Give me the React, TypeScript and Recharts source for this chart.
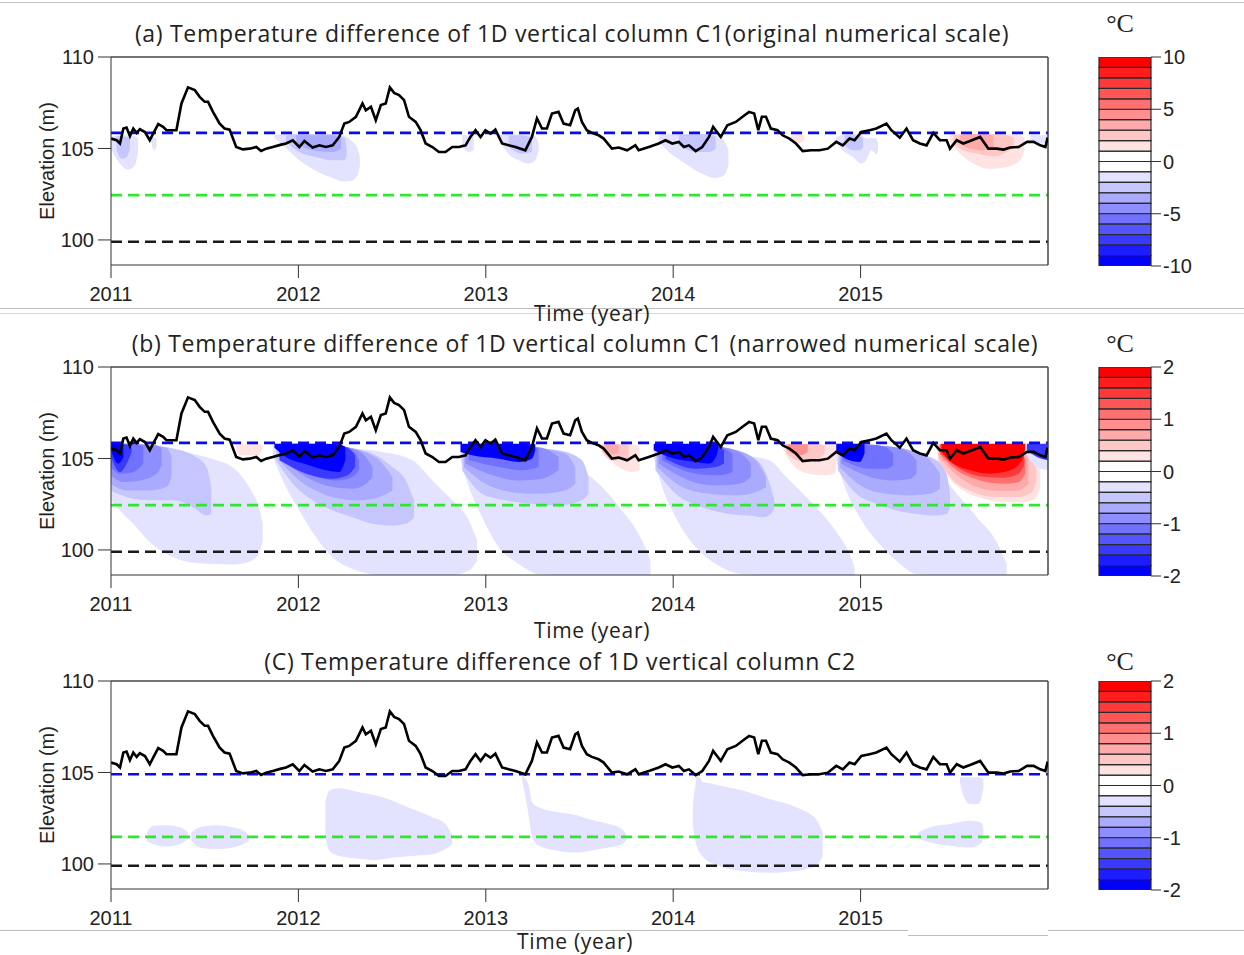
import React from 'react';
import {
  ComposedChart,
  BarChart,
  Bar,
  Area,
  Line,
  XAxis,
  YAxis,
  ReferenceLine,
} from 'recharts';

type Pt = [number, number, number]; // [year, upper elev, lower elev]
type Patch = { level: number; pts: Pt[] };

const yearTicks = [2011, 2012, 2013, 2014, 2015];
const elevTicks = [100, 105, 110];
const barTicksA = [10, 5, 0, -5, -10];
const barTicksBC = [2, 1, 0, -1, -2];

// reservoir water level (m) (same in all panels)
const waterLevel: [number, number][] = [
  [2011.0, 105.54], [2011.03, 105.45], [2011.048, 105.27], [2011.066, 106.09], [2011.083, 106.14],
  [2011.101, 105.67], [2011.119, 106.09], [2011.137, 105.85], [2011.154, 106.05], [2011.181, 105.9],
  [2011.207, 105.45], [2011.225, 105.81], [2011.252, 106.33], [2011.278, 106.18], [2011.296, 106.0],
  [2011.349, 106.0], [2011.376, 107.46], [2011.411, 108.34], [2011.447, 108.19], [2011.473, 107.82],
  [2011.5, 107.55], [2011.518, 107.55], [2011.544, 107.0], [2011.58, 106.36], [2011.606, 106.09],
  [2011.633, 106.03], [2011.668, 105.08], [2011.704, 104.95], [2011.739, 104.99], [2011.775, 105.08],
  [2011.801, 104.86], [2011.828, 104.99], [2011.863, 105.08], [2011.908, 105.21], [2011.934, 105.27],
  [2011.97, 105.45], [2012.005, 105.08], [2012.032, 105.41], [2012.076, 105.05], [2012.112, 105.17],
  [2012.147, 105.08], [2012.183, 105.17], [2012.218, 105.63], [2012.245, 106.36], [2012.271, 106.45],
  [2012.307, 106.73], [2012.342, 107.46], [2012.36, 107.09], [2012.387, 107.28], [2012.413, 106.54],
  [2012.44, 107.37], [2012.466, 107.46], [2012.488, 108.34], [2012.511, 108.04], [2012.537, 107.92],
  [2012.564, 107.64], [2012.59, 106.73], [2012.626, 106.45], [2012.652, 106.0], [2012.679, 105.27],
  [2012.715, 105.08], [2012.75, 104.81], [2012.785, 104.81], [2012.821, 105.08], [2012.856, 105.08],
  [2012.892, 105.17], [2012.918, 105.63], [2012.945, 106.0], [2012.972, 105.63], [2012.998, 106.0],
  [2013.025, 105.81], [2013.051, 106.03], [2013.087, 105.27], [2013.122, 105.17], [2013.158, 105.08],
  [2013.211, 104.9], [2013.246, 105.63], [2013.273, 106.64], [2013.3, 106.09], [2013.326, 106.09],
  [2013.353, 106.91], [2013.388, 107.0], [2013.415, 106.36], [2013.45, 106.27], [2013.477, 107.09],
  [2013.491, 107.18], [2013.513, 106.45], [2013.539, 106.0], [2013.566, 105.85], [2013.602, 105.72],
  [2013.629, 105.54], [2013.673, 104.99], [2013.709, 105.05], [2013.754, 104.9], [2013.798, 105.17],
  [2013.816, 104.9], [2013.87, 105.08], [2013.923, 105.27], [2013.959, 105.45], [2013.995, 105.27],
  [2014.03, 105.36], [2014.057, 105.08], [2014.084, 105.17], [2014.12, 104.86], [2014.155, 105.08],
  [2014.191, 105.63], [2014.213, 106.18], [2014.254, 105.63], [2014.289, 106.27], [2014.334, 106.45],
  [2014.37, 106.73], [2014.405, 107.0], [2014.432, 106.91], [2014.454, 106.0], [2014.473, 106.73],
  [2014.495, 106.73], [2014.521, 106.09], [2014.557, 106.0], [2014.584, 105.72], [2014.62, 105.54],
  [2014.655, 105.27], [2014.691, 104.86], [2014.736, 104.9], [2014.78, 104.9], [2014.825, 104.99],
  [2014.87, 105.36], [2014.905, 105.17], [2014.941, 105.54], [2014.968, 105.45], [2015.004, 105.9],
  [2015.048, 106.0], [2015.084, 106.09], [2015.138, 106.36], [2015.164, 106.0], [2015.209, 105.59],
  [2015.245, 106.09], [2015.28, 105.45], [2015.316, 105.27], [2015.352, 105.17], [2015.388, 105.85],
  [2015.423, 105.45], [2015.459, 105.45], [2015.477, 104.99], [2015.513, 105.45], [2015.548, 105.27],
  [2015.584, 105.41], [2015.638, 105.63], [2015.682, 104.99], [2015.727, 104.99], [2015.763, 104.94],
  [2015.798, 105.05], [2015.843, 105.08], [2015.888, 105.36], [2015.923, 105.36], [2015.959, 105.17],
  [2015.986, 105.08], [2015.998, 105.59],
];

// column top, mid layer, column base (m)
const c1Marks = [105.85, 102.45, 99.9];
const c2Marks = [104.9, 101.48, 99.9];

// ---- panel (a): contour bands, original scale ----
const a1Outer: Pt[] = [[2011.0, 105.63, 104.95], [2011.048, 105.72, 104.17], [2011.092, 105.72, 103.84], [2011.128, 105.67, 104.08], [2011.145, 105.54, 104.9]];
const a1Inner: Pt[] = [[2011.03, 105.67, 104.9], [2011.057, 105.67, 104.44], [2011.083, 105.63, 104.53], [2011.101, 105.54, 104.99]];
const a1Spot: Pt[] = [[2011.216, 105.59, 105.27], [2011.229, 105.59, 104.9], [2011.243, 105.54, 105.08]];
const a2Outer: Pt[] = [[2011.872, 105.72, 105.59], [2011.917, 105.78, 105.17], [2012.005, 105.78, 104.35], [2012.094, 105.78, 103.77], [2012.183, 105.78, 103.38], [2012.236, 105.72, 103.2], [2012.28, 105.45, 103.22], [2012.316, 104.99, 103.53], [2012.328, 104.53, 104.08]];
const a2Inner: Pt[] = [[2011.934, 105.72, 105.36], [2012.005, 105.78, 104.81], [2012.094, 105.78, 104.53], [2012.183, 105.78, 104.35], [2012.245, 105.59, 104.35], [2012.257, 105.08, 104.63]];
const a2Core: Pt[] = [[2011.988, 105.72, 105.27], [2012.076, 105.72, 104.9], [2012.183, 105.72, 104.81], [2012.227, 105.54, 104.99]];
const a3Spot: Pt[] = [[2012.874, 105.72, 105.08], [2012.91, 105.72, 104.81], [2012.936, 105.59, 104.9]];
const a3Outer: Pt[] = [[2013.069, 105.72, 105.54], [2013.105, 105.78, 104.9], [2013.176, 105.78, 104.35], [2013.229, 105.78, 104.17], [2013.264, 105.67, 104.35], [2013.282, 105.27, 104.9]];
const a3Inner: Pt[] = [[2013.122, 105.72, 105.08], [2013.193, 105.72, 104.72], [2013.246, 105.59, 104.81]];
const a4Outer: Pt[] = [[2013.923, 105.72, 105.36], [2013.977, 105.78, 104.81], [2014.066, 105.78, 104.17], [2014.155, 105.78, 103.62], [2014.227, 105.72, 103.38], [2014.271, 105.45, 103.53], [2014.295, 104.9, 104.08]];
const a4Inner: Pt[] = [[2014.03, 105.72, 105.17], [2014.12, 105.78, 104.81], [2014.191, 105.78, 104.81], [2014.227, 105.63, 104.99]];
const a4Warm: Pt[] = [[2014.629, 105.72, 105.54], [2014.664, 105.78, 105.27], [2014.7, 105.72, 105.45]];
const a5Outer: Pt[] = [[2014.87, 105.63, 105.36], [2014.905, 105.72, 104.9], [2014.959, 105.78, 104.53], [2015.004, 105.72, 104.17], [2015.03, 105.54, 104.35], [2015.057, 105.59, 104.9], [2015.084, 105.54, 104.68], [2015.093, 105.27, 104.9]];
const a5Inner: Pt[] = [[2014.914, 105.72, 105.17], [2014.959, 105.72, 104.9], [2014.995, 105.67, 104.9], [2015.013, 105.54, 105.08]];
const a6Outer: Pt[] = [[2015.477, 105.72, 105.36], [2015.53, 105.78, 104.72], [2015.602, 105.78, 104.17], [2015.691, 105.78, 103.89], [2015.78, 105.78, 103.99], [2015.852, 105.72, 104.35], [2015.873, 105.59, 104.9]];
const a6Inner: Pt[] = [[2015.495, 105.72, 105.27], [2015.548, 105.78, 104.9], [2015.62, 105.78, 104.72], [2015.709, 105.78, 104.57], [2015.78, 105.72, 104.81], [2015.816, 105.59, 105.08]];
const a6Core: Pt[] = [[2015.53, 105.72, 105.27], [2015.584, 105.78, 104.99], [2015.655, 105.78, 104.9], [2015.709, 105.72, 105.08]];
const a7Tail: Pt[] = [[2015.905, 105.72, 105.45], [2015.959, 105.72, 105.27], [2016.0, 105.72, 105.36]];

const panelA: Patch[] = [
  { level: -1.5, pts: a1Outer }, { level: -2.5, pts: a1Inner }, { level: -1.5, pts: a1Spot },
  { level: -1.5, pts: a2Outer }, { level: -2.5, pts: a2Inner }, { level: -3.5, pts: a2Core },
  { level: -1.5, pts: a3Spot }, { level: -1.5, pts: a3Outer }, { level: -2.5, pts: a3Inner },
  { level: -1.5, pts: a4Outer }, { level: -2.5, pts: a4Inner }, { level: 1.5, pts: a4Warm },
  { level: -1.5, pts: a5Outer }, { level: -2.5, pts: a5Inner },
  { level: 1.5, pts: a6Outer }, { level: 2.5, pts: a6Inner }, { level: 3.5, pts: a6Core },
  { level: -1.5, pts: a7Tail },
];

// ---- panel (b): contour bands, narrowed scale ----
const b1L1: Pt[] = [[2011.0, 105.81, 102.71], [2011.048, 105.81, 102.16], [2011.119, 105.72, 101.43], [2011.207, 105.59, 100.42], [2011.296, 105.48, 99.78], [2011.385, 105.36, 99.41], [2011.473, 105.17, 99.27], [2011.562, 104.9, 99.23], [2011.633, 104.63, 99.2], [2011.686, 104.17, 99.23], [2011.748, 103.25, 99.41], [2011.789, 102.34, 99.78], [2011.81, 101.43, 100.51]];
const b1L2: Pt[] = [[2011.0, 105.81, 103.25], [2011.083, 105.81, 102.89], [2011.207, 105.72, 102.71], [2011.332, 105.54, 102.71], [2011.438, 105.17, 102.34], [2011.509, 104.53, 101.88], [2011.535, 103.44, 101.97]];
const b1L3: Pt[] = [[2011.0, 105.81, 103.62], [2011.083, 105.81, 103.25], [2011.207, 105.72, 103.25], [2011.296, 105.59, 103.44], [2011.323, 105.08, 103.99]];
const b1L4: Pt[] = [[2011.0, 105.81, 104.08], [2011.066, 105.81, 103.71], [2011.154, 105.78, 103.8], [2011.243, 105.72, 104.17], [2011.27, 105.54, 104.63]];
const b1L5: Pt[] = [[2011.0, 105.81, 104.53], [2011.048, 105.81, 104.17], [2011.119, 105.78, 104.26], [2011.172, 105.67, 104.72]];
const b1L6: Pt[] = [[2011.0, 105.81, 105.08], [2011.048, 105.81, 104.26], [2011.092, 105.72, 104.9], [2011.11, 105.59, 105.36]];
const b1L7: Pt[] = [[2011.0, 105.81, 105.45], [2011.039, 105.81, 104.72], [2011.066, 105.78, 105.08]];
const b1Warm: Pt[] = [[2011.668, 105.78, 105.59], [2011.686, 105.78, 105.17], [2011.739, 105.78, 105.17], [2011.784, 105.78, 105.17], [2011.81, 105.72, 105.59]];

const b2L1: Pt[] = [[2011.863, 105.72, 105.08], [2011.934, 105.78, 103.44], [2012.005, 105.78, 102.16], [2012.094, 105.72, 100.69], [2012.183, 105.59, 99.6], [2012.289, 105.54, 98.96], [2012.449, 105.36, 98.63], [2012.608, 104.9, 98.63], [2012.715, 103.8, 98.63], [2012.821, 102.71, 98.63], [2012.91, 101.61, 98.87], [2012.954, 100.51, 99.41]];
const b2L2: Pt[] = [[2011.881, 105.78, 104.9], [2011.97, 105.78, 103.62], [2012.076, 105.72, 102.71], [2012.183, 105.67, 102.16], [2012.289, 105.54, 101.79], [2012.395, 105.27, 101.43], [2012.502, 104.53, 101.33], [2012.573, 103.8, 101.43], [2012.617, 102.71, 101.79]];
const b2L3: Pt[] = [[2011.899, 105.78, 104.9], [2012.005, 105.78, 103.8], [2012.112, 105.72, 103.16], [2012.218, 105.67, 102.8], [2012.324, 105.45, 102.71], [2012.431, 104.9, 102.89], [2012.502, 103.99, 103.25]];
const b2L4: Pt[] = [[2011.917, 105.78, 104.9], [2012.041, 105.78, 103.99], [2012.183, 105.72, 103.44], [2012.289, 105.54, 103.35], [2012.36, 105.08, 103.62], [2012.395, 104.53, 103.99]];
const b2L5: Pt[] = [[2011.934, 105.78, 104.9], [2012.076, 105.78, 104.08], [2012.2, 105.72, 103.8], [2012.289, 105.45, 103.99], [2012.324, 104.9, 104.35]];
const b2L6: Pt[] = [[2011.899, 105.81, 104.9], [2012.041, 105.81, 104.17], [2012.183, 105.78, 103.89], [2012.262, 105.59, 104.08], [2012.303, 105.17, 104.53]];
const b2L7: Pt[] = [[2011.872, 105.81, 105.59], [2011.934, 105.81, 105.08], [2012.041, 105.81, 104.68], [2012.147, 105.81, 104.35], [2012.218, 105.78, 104.26], [2012.25, 105.63, 104.9]];

const b3L1: Pt[] = [[2012.865, 105.72, 104.9], [2012.91, 105.78, 103.44], [2012.98, 105.72, 101.79], [2013.069, 105.59, 100.15], [2013.176, 105.45, 99.23], [2013.282, 105.17, 98.68], [2013.424, 104.9, 98.63], [2013.513, 104.35, 98.63], [2013.62, 103.44, 98.63], [2013.727, 102.16, 98.63], [2013.834, 100.51, 98.63], [2013.879, 99.41, 98.63]];
const b3L2: Pt[] = [[2012.874, 105.78, 104.35], [2012.98, 105.72, 103.07], [2013.105, 105.67, 102.71], [2013.246, 105.59, 102.52], [2013.388, 105.45, 102.43], [2013.513, 104.9, 102.71], [2013.548, 103.99, 103.07]];
const b3L3: Pt[] = [[2012.883, 105.78, 104.53], [2012.998, 105.72, 103.62], [2013.14, 105.67, 103.16], [2013.282, 105.54, 103.07], [2013.424, 105.27, 103.25], [2013.477, 104.53, 103.62]];
const b3L4: Pt[] = [[2012.892, 105.78, 104.72], [2013.034, 105.78, 104.08], [2013.176, 105.72, 103.8], [2013.3, 105.59, 103.89], [2013.388, 105.08, 104.35]];
const b3L5: Pt[] = [[2012.91, 105.78, 104.9], [2013.069, 105.78, 104.53], [2013.193, 105.72, 104.35], [2013.282, 105.54, 104.53]];
const b3L7: Pt[] = [[2012.865, 105.81, 105.36], [2012.927, 105.81, 105.17], [2013.069, 105.81, 104.99], [2013.176, 105.81, 104.81], [2013.246, 105.78, 104.99], [2013.264, 105.81, 105.45]];

const b4W1: Pt[] = [[2013.602, 105.78, 105.63], [2013.637, 105.78, 105.17], [2013.709, 105.78, 104.53], [2013.78, 105.78, 104.26], [2013.82, 105.63, 104.35]];
const b4W2: Pt[] = [[2013.62, 105.78, 105.36], [2013.673, 105.78, 104.9], [2013.727, 105.78, 104.9], [2013.763, 105.72, 105.08]];
const b4W3: Pt[] = [[2013.637, 105.78, 105.48], [2013.682, 105.78, 105.23], [2013.709, 105.72, 105.36]];

const b5L1: Pt[] = [[2013.896, 105.72, 105.08], [2013.941, 105.78, 103.44], [2014.013, 105.72, 101.79], [2014.12, 105.59, 100.15], [2014.227, 105.45, 99.23], [2014.37, 105.17, 98.68], [2014.513, 104.9, 98.63], [2014.602, 103.99, 98.63], [2014.727, 102.71, 98.63], [2014.852, 101.24, 98.63], [2014.941, 99.78, 98.63], [2014.968, 99.05, 98.63]];
const b5L2: Pt[] = [[2013.905, 105.78, 104.35], [2014.013, 105.72, 103.07], [2014.155, 105.67, 102.34], [2014.298, 105.54, 101.97], [2014.405, 105.17, 101.88], [2014.477, 104.53, 101.79], [2014.521, 103.44, 101.97], [2014.539, 102.71, 102.34]];
const b5L3: Pt[] = [[2013.914, 105.78, 104.53], [2014.048, 105.72, 103.44], [2014.191, 105.67, 103.07], [2014.334, 105.45, 102.98], [2014.441, 104.9, 103.16], [2014.495, 103.99, 103.44]];
const b5L4: Pt[] = [[2013.923, 105.78, 104.72], [2014.084, 105.74, 103.8], [2014.227, 105.67, 103.53], [2014.352, 105.36, 103.62], [2014.414, 104.72, 103.99]];
const b5L5: Pt[] = [[2013.941, 105.78, 104.9], [2014.12, 105.76, 104.17], [2014.245, 105.67, 104.08], [2014.316, 105.27, 104.26]];
const b5L6: Pt[] = [[2013.959, 105.78, 104.99], [2014.12, 105.78, 104.44], [2014.227, 105.72, 104.53], [2014.271, 105.45, 104.72]];
const b5L7: Pt[] = [[2013.896, 105.81, 105.45], [2013.977, 105.81, 105.08], [2014.12, 105.81, 104.81], [2014.191, 105.81, 104.72], [2014.227, 105.81, 105.08], [2014.241, 105.81, 105.59]];

const b6W1: Pt[] = [[2014.584, 105.78, 105.59], [2014.62, 105.78, 104.9], [2014.691, 105.78, 104.26], [2014.798, 105.78, 104.08], [2014.861, 105.72, 104.17], [2014.873, 105.59, 104.9]];
const b6W2: Pt[] = [[2014.602, 105.78, 105.27], [2014.691, 105.78, 104.81], [2014.763, 105.78, 104.9], [2014.807, 105.72, 105.27]];
const b6W4: Pt[] = [[2014.611, 105.78, 105.45], [2014.673, 105.78, 105.17], [2014.718, 105.78, 105.36]];

const b7L1: Pt[] = [[2014.87, 105.72, 104.9], [2014.923, 105.78, 103.25], [2014.995, 105.72, 101.79], [2015.084, 105.59, 100.51], [2015.191, 105.45, 99.41], [2015.298, 105.17, 98.68], [2015.405, 104.35, 98.63], [2015.513, 103.07, 98.63], [2015.62, 101.79, 98.63], [2015.727, 100.42, 98.63], [2015.78, 99.23, 98.63]];
const b7L2: Pt[] = [[2014.879, 105.78, 104.35], [2014.977, 105.72, 103.07], [2015.084, 105.67, 102.52], [2015.191, 105.54, 102.16], [2015.298, 105.27, 101.97], [2015.405, 104.9, 101.88], [2015.459, 104.17, 101.97], [2015.477, 103.07, 102.34]];
const b7L3: Pt[] = [[2014.888, 105.78, 104.53], [2015.013, 105.72, 103.44], [2015.138, 105.67, 103.07], [2015.263, 105.45, 102.98], [2015.37, 104.9, 103.07], [2015.423, 104.17, 103.35]];
const b7L4: Pt[] = [[2014.896, 105.78, 104.72], [2015.048, 105.74, 103.99], [2015.173, 105.63, 103.8], [2015.263, 105.27, 103.89], [2015.298, 104.9, 104.17]];
const b7L5: Pt[] = [[2014.905, 105.78, 104.9], [2015.048, 105.76, 104.44], [2015.138, 105.59, 104.44], [2015.173, 105.27, 104.63]];
const b7L7: Pt[] = [[2014.87, 105.81, 105.36], [2014.941, 105.81, 104.9], [2014.995, 105.81, 104.81], [2015.021, 105.81, 105.27]];

const b8W1: Pt[] = [[2015.405, 105.78, 105.45], [2015.459, 105.78, 104.17], [2015.548, 105.78, 103.25], [2015.655, 105.78, 102.8], [2015.763, 105.78, 102.61], [2015.87, 105.72, 102.61], [2015.932, 105.27, 102.8], [2015.959, 104.53, 103.44]];
const b8W2: Pt[] = [[2015.414, 105.78, 104.9], [2015.495, 105.78, 103.8], [2015.602, 105.78, 103.16], [2015.727, 105.78, 102.89], [2015.834, 105.72, 102.89], [2015.914, 105.17, 103.16], [2015.938, 104.35, 103.8]];
const b8W3: Pt[] = [[2015.42, 105.78, 105.08], [2015.513, 105.78, 104.08], [2015.62, 105.78, 103.44], [2015.745, 105.78, 103.22], [2015.843, 105.67, 103.25], [2015.896, 105.08, 103.62]];
const b8W5: Pt[] = [[2015.423, 105.78, 105.23], [2015.513, 105.78, 104.35], [2015.638, 105.78, 103.8], [2015.763, 105.78, 103.62], [2015.843, 105.59, 103.71], [2015.879, 104.9, 104.17]];
const b8W7: Pt[] = [[2015.427, 105.78, 105.3], [2015.513, 105.78, 104.53], [2015.638, 105.78, 104.02], [2015.763, 105.78, 103.95], [2015.843, 105.59, 104.17], [2015.873, 105.08, 104.63]];
const b8W9: Pt[] = [[2015.432, 105.81, 105.36], [2015.495, 105.81, 104.72], [2015.584, 105.81, 104.35], [2015.691, 105.81, 104.17], [2015.798, 105.81, 104.35], [2015.861, 105.81, 104.9], [2015.879, 105.81, 105.54]];
const b9L1: Pt[] = [[2015.879, 105.78, 105.27], [2015.941, 105.78, 104.53], [2016.0, 105.78, 104.35]];
const b9L6: Pt[] = [[2015.888, 105.81, 105.45], [2015.941, 105.81, 105.08], [2016.0, 105.81, 104.9]];

const panelB: Patch[] = [
  { level: -0.3, pts: b1L1 }, { level: -0.5, pts: b1L2 }, { level: -0.7, pts: b1L3 }, { level: -0.9, pts: b1L4 },
  { level: -1.1, pts: b1L5 }, { level: -1.5, pts: b1L6 }, { level: -1.9, pts: b1L7 }, { level: 0.3, pts: b1Warm },
  { level: -0.3, pts: b2L1 }, { level: -0.5, pts: b2L2 }, { level: -0.7, pts: b2L3 }, { level: -0.9, pts: b2L4 },
  { level: -1.1, pts: b2L5 }, { level: -1.5, pts: b2L6 }, { level: -1.9, pts: b2L7 },
  { level: -0.3, pts: b3L1 }, { level: -0.5, pts: b3L2 }, { level: -0.7, pts: b3L3 }, { level: -0.9, pts: b3L4 },
  { level: -1.1, pts: b3L5 }, { level: -1.9, pts: b3L7 },
  { level: 0.3, pts: b4W1 }, { level: 0.5, pts: b4W2 }, { level: 0.7, pts: b4W3 },
  { level: -0.3, pts: b5L1 }, { level: -0.5, pts: b5L2 }, { level: -0.7, pts: b5L3 }, { level: -0.9, pts: b5L4 },
  { level: -1.1, pts: b5L5 }, { level: -1.5, pts: b5L6 }, { level: -1.9, pts: b5L7 },
  { level: 0.3, pts: b6W1 }, { level: 0.5, pts: b6W2 }, { level: 0.9, pts: b6W4 },
  { level: -0.3, pts: b7L1 }, { level: -0.5, pts: b7L2 }, { level: -0.7, pts: b7L3 }, { level: -0.9, pts: b7L4 },
  { level: -1.1, pts: b7L5 }, { level: -1.9, pts: b7L7 },
  { level: 0.3, pts: b8W1 }, { level: 0.5, pts: b8W2 }, { level: 0.7, pts: b8W3 }, { level: 1.1, pts: b8W5 },
  { level: 1.5, pts: b8W7 }, { level: 1.9, pts: b8W9 },
  { level: -0.3, pts: b9L1 }, { level: -1.5, pts: b9L6 },
];

// ---- panel (c): column C2 ----
const c1: Pt[] = [[2011.19, 101.72, 101.26], [2011.225, 102.09, 101.08], [2011.296, 102.12, 100.95], [2011.367, 102.0, 101.08], [2011.411, 101.72, 101.36]];
const c2: Pt[] = [[2011.429, 101.72, 101.26], [2011.473, 102.0, 100.9], [2011.562, 102.12, 100.81], [2011.651, 102.0, 100.9], [2011.722, 101.72, 101.17], [2011.736, 101.45, 101.26]];
const c3: Pt[] = [[2012.144, 103.37, 101.54], [2012.165, 104.01, 100.71], [2012.218, 104.14, 100.44], [2012.324, 103.92, 100.29], [2012.413, 103.74, 100.22], [2012.502, 103.46, 100.35], [2012.608, 103.0, 100.44], [2012.715, 102.55, 100.53], [2012.785, 102.18, 100.81], [2012.821, 101.54, 101.08]];
const c4: Pt[] = [[2013.193, 104.84, 104.65], [2013.229, 104.29, 102.64], [2013.246, 103.37, 101.54], [2013.282, 103.1, 100.99], [2013.388, 102.82, 100.71], [2013.495, 102.64, 100.62], [2013.548, 102.45, 100.71], [2013.655, 102.18, 100.9], [2013.727, 101.9, 101.08], [2013.754, 101.54, 101.36]];
const c5Streak: Pt[] = [[2014.12, 104.84, 104.29], [2014.146, 104.65, 103.74], [2014.164, 104.29, 104.01]];
const c5: Pt[] = [[2014.105, 103.19, 102.09], [2014.12, 104.29, 101.17], [2014.155, 104.47, 100.44], [2014.245, 104.29, 99.89], [2014.37, 104.01, 99.62], [2014.513, 103.55, 99.52], [2014.655, 103.1, 99.62], [2014.762, 102.45, 99.89], [2014.798, 101.72, 100.44]];
const c6: Pt[] = [[2015.53, 104.74, 104.47], [2015.548, 104.74, 103.74], [2015.584, 104.74, 103.28], [2015.629, 104.74, 103.28], [2015.655, 104.65, 104.11]];
const c7: Pt[] = [[2015.307, 101.72, 101.36], [2015.37, 102.0, 101.17], [2015.477, 102.18, 100.99], [2015.584, 102.36, 100.9], [2015.646, 102.27, 101.17], [2015.655, 101.9, 101.54]];

const panelC: Patch[] = [c1, c2, c3, c4, c5Streak, c5, c6, c7].map((pts) => ({ level: -0.3, pts }));

// ---- helpers ----
const markColors = ['#0a0aee', '#2ee82e', '#1a1a1a'];
const YEAR_DOMAIN: [number, number] = [2011, 2016];
const ELEV_DOMAIN: [number, number] = [98.63, 110];

function shade(v: number, max: number) {
  const k = Math.min(9, Math.floor(Math.abs(v) / (max / 10) + 1e-9));
  const c = Math.round(255 * (1 - k / 9));
  return v < 0 ? `rgb(${c},${c},255)` : `rgb(255,${c},${c})`;
}

const levelData = waterLevel.map(([t, h]) => ({ t, h }));
const toArea = (pts: Pt[]) => pts.map(([t, hi, lo]) => ({ t, r: [lo, hi] }));

const tickStyle = { fontSize: 20, fill: '#222', fontFamily: '"Liberation Sans", Arial, sans-serif' };

function Panel({ top, patches, marks, max }: { top: number; patches: Patch[]; marks: number[]; max: number }) {
  return (
    <div style={{ position: 'absolute', left: 0, top }}>
      <ComposedChart width={1080} height={310} margin={{ top: 57, right: 32, bottom: 5, left: 31 }}>
        <XAxis
          dataKey="t"
          type="number"
          domain={YEAR_DOMAIN}
          ticks={yearTicks}
          allowDataOverflow
          height={40}
          tickSize={13}
          tickMargin={9}
          tick={tickStyle}
          stroke="#333"
        />
        <YAxis
          type="number"
          domain={ELEV_DOMAIN}
          ticks={elevTicks}
          allowDataOverflow
          width={80}
          tickSize={13}
          tickMargin={4}
          tick={tickStyle}
          stroke="#333"
        />
        {patches.map((p, i) => (
          <Area
            key={i}
            data={toArea(p.pts)}
            dataKey="r"
            type="monotone"
            stroke="none"
            fill={shade(p.level, max)}
            fillOpacity={1}
            isAnimationActive={false}
          />
        ))}
        {marks.map((m, i) => (
          <ReferenceLine key={i} y={m} stroke={markColors[i]} strokeWidth={2.6} strokeDasharray="11 6" />
        ))}
        {/* plot frame: top and right edges */}
        <ReferenceLine y={ELEV_DOMAIN[1]} stroke="#444" strokeWidth={1.5} />
        <ReferenceLine x={YEAR_DOMAIN[1]} stroke="#444" strokeWidth={1.5} />
        <Line data={levelData} dataKey="h" type="linear" stroke="#000" strokeWidth={2.6} dot={false} isAnimationActive={false} />
      </ComposedChart>
    </div>
  );
}

function ColorBar({ top, max, ticks }: { top: number; max: number; ticks: number[] }) {
  const step = max / 10;
  // upper halves stack up from 0, lower halves stack down from 0
  const order = [10, 11, 12, 13, 14, 15, 16, 17, 18, 19, 9, 8, 7, 6, 5, 4, 3, 2, 1, 0];
  const row: Record<string, number | string> = { name: 'bar' };
  order.forEach((i) => {
    row[`b${i}`] = i >= 10 ? step : -step;
  });
  return (
    <div style={{ position: 'absolute', left: 1080, top }}>
      <BarChart
        width={164}
        height={310}
        margin={{ top: 57, right: 33, bottom: 44, left: 19 }}
        data={[row]}
        stackOffset="sign"
        barCategoryGap={0}
      >
        <XAxis dataKey="name" hide />
        <YAxis
          orientation="right"
          type="number"
          domain={[-max, max]}
          ticks={ticks}
          allowDataOverflow
          width={60}
          tickSize={10}
          tickMargin={2}
          axisLine={false}
          tick={tickStyle}
          stroke="#333"
        />
        {order.map((i) => (
          <Bar
            key={i}
            dataKey={`b${i}`}
            stackId="cb"
            fill={shade(-max + (i + 0.5) * step, max)}
            stroke="#2a2a2a"
            strokeWidth={1.2}
            isAnimationActive={false}
          />
        ))}
      </BarChart>
    </div>
  );
}

const Caption = ({ x, y, size, children, serif }: { x: number; y: number; size: number; children: React.ReactNode; serif?: boolean }) => (
  <div
    style={{
      position: 'absolute',
      left: x,
      top: y,
      transform: 'translate(-50%, -50%)',
      whiteSpace: 'nowrap',
      fontSize: size,
      lineHeight: 1,
      color: '#222',
      letterSpacing: serif ? 0 : 0.7,
      fontFamily: serif ? '"Liberation Serif", serif' : '"Open Sans", sans-serif',
    }}
  >
    {children}
  </div>
);

const YLabel = ({ y }: { y: number }) => (
  <div
    style={{
      position: 'absolute',
      left: 47,
      top: y,
      transform: 'translate(-50%, -50%) rotate(-90deg)',
      whiteSpace: 'nowrap',
      fontSize: 20,
      lineHeight: 1,
      color: '#222',
      fontFamily: '"Liberation Sans", Arial, sans-serif',
    }}
  >
    Elevation (m)
  </div>
);

const Rule = ({ y, x = 0, w = 1244, c = '#c8c8c8' }: { y: number; x?: number; w?: number; c?: string }) => (
  <div style={{ position: 'absolute', left: x, top: y, width: w, height: 1, background: c }} />
);

export default function App() {
  return (
    <div style={{ position: 'absolute', left: 0, top: 0, width: 1244, height: 955, background: '#fff', overflow: 'hidden' }}>
      <Rule y={2} />
      <Rule y={308} c="#bdbdbd" />
      <Rule y={313} c="#d8d8d8" />

      <Panel top={0} patches={panelA} marks={c1Marks} max={10} />
      <Panel top={310} patches={panelB} marks={c1Marks} max={2} />
      <Panel top={624} patches={panelC} marks={c2Marks} max={2} />

      <ColorBar top={0} max={10} ticks={barTicksA} />
      <ColorBar top={310} max={2} ticks={barTicksBC} />
      <ColorBar top={624} max={2} ticks={barTicksBC} />

      <Caption x={572} y={33} size={23}>(a) Temperature difference of 1D vertical column C1(original numerical scale)</Caption>
      <Caption x={585} y={343} size={23}>(b) Temperature difference of 1D vertical column C1 (narrowed numerical scale)</Caption>
      <Caption x={560} y={661} size={23}>(C) Temperature difference of 1D vertical column C2</Caption>

      <Caption x={592} y={313} size={21}>Time (year)</Caption>
      <Caption x={592} y={630} size={21}>Time (year)</Caption>
      <Caption x={575} y={941} size={21}>Time (year)</Caption>

      <Caption x={1120} y={24} size={26} serif>°C</Caption>
      <Caption x={1120} y={344} size={26} serif>°C</Caption>
      <Caption x={1120} y={662} size={26} serif>°C</Caption>

      <YLabel y={161} />
      <YLabel y={471} />
      <YLabel y={785} />

      <Rule y={930} w={908} c="#bdbdbd" />
      <Rule y={935} x={908} w={140} c="#bdbdbd" />
      <Rule y={930} x={1048} w={196} c="#bdbdbd" />
    </div>
  );
}
